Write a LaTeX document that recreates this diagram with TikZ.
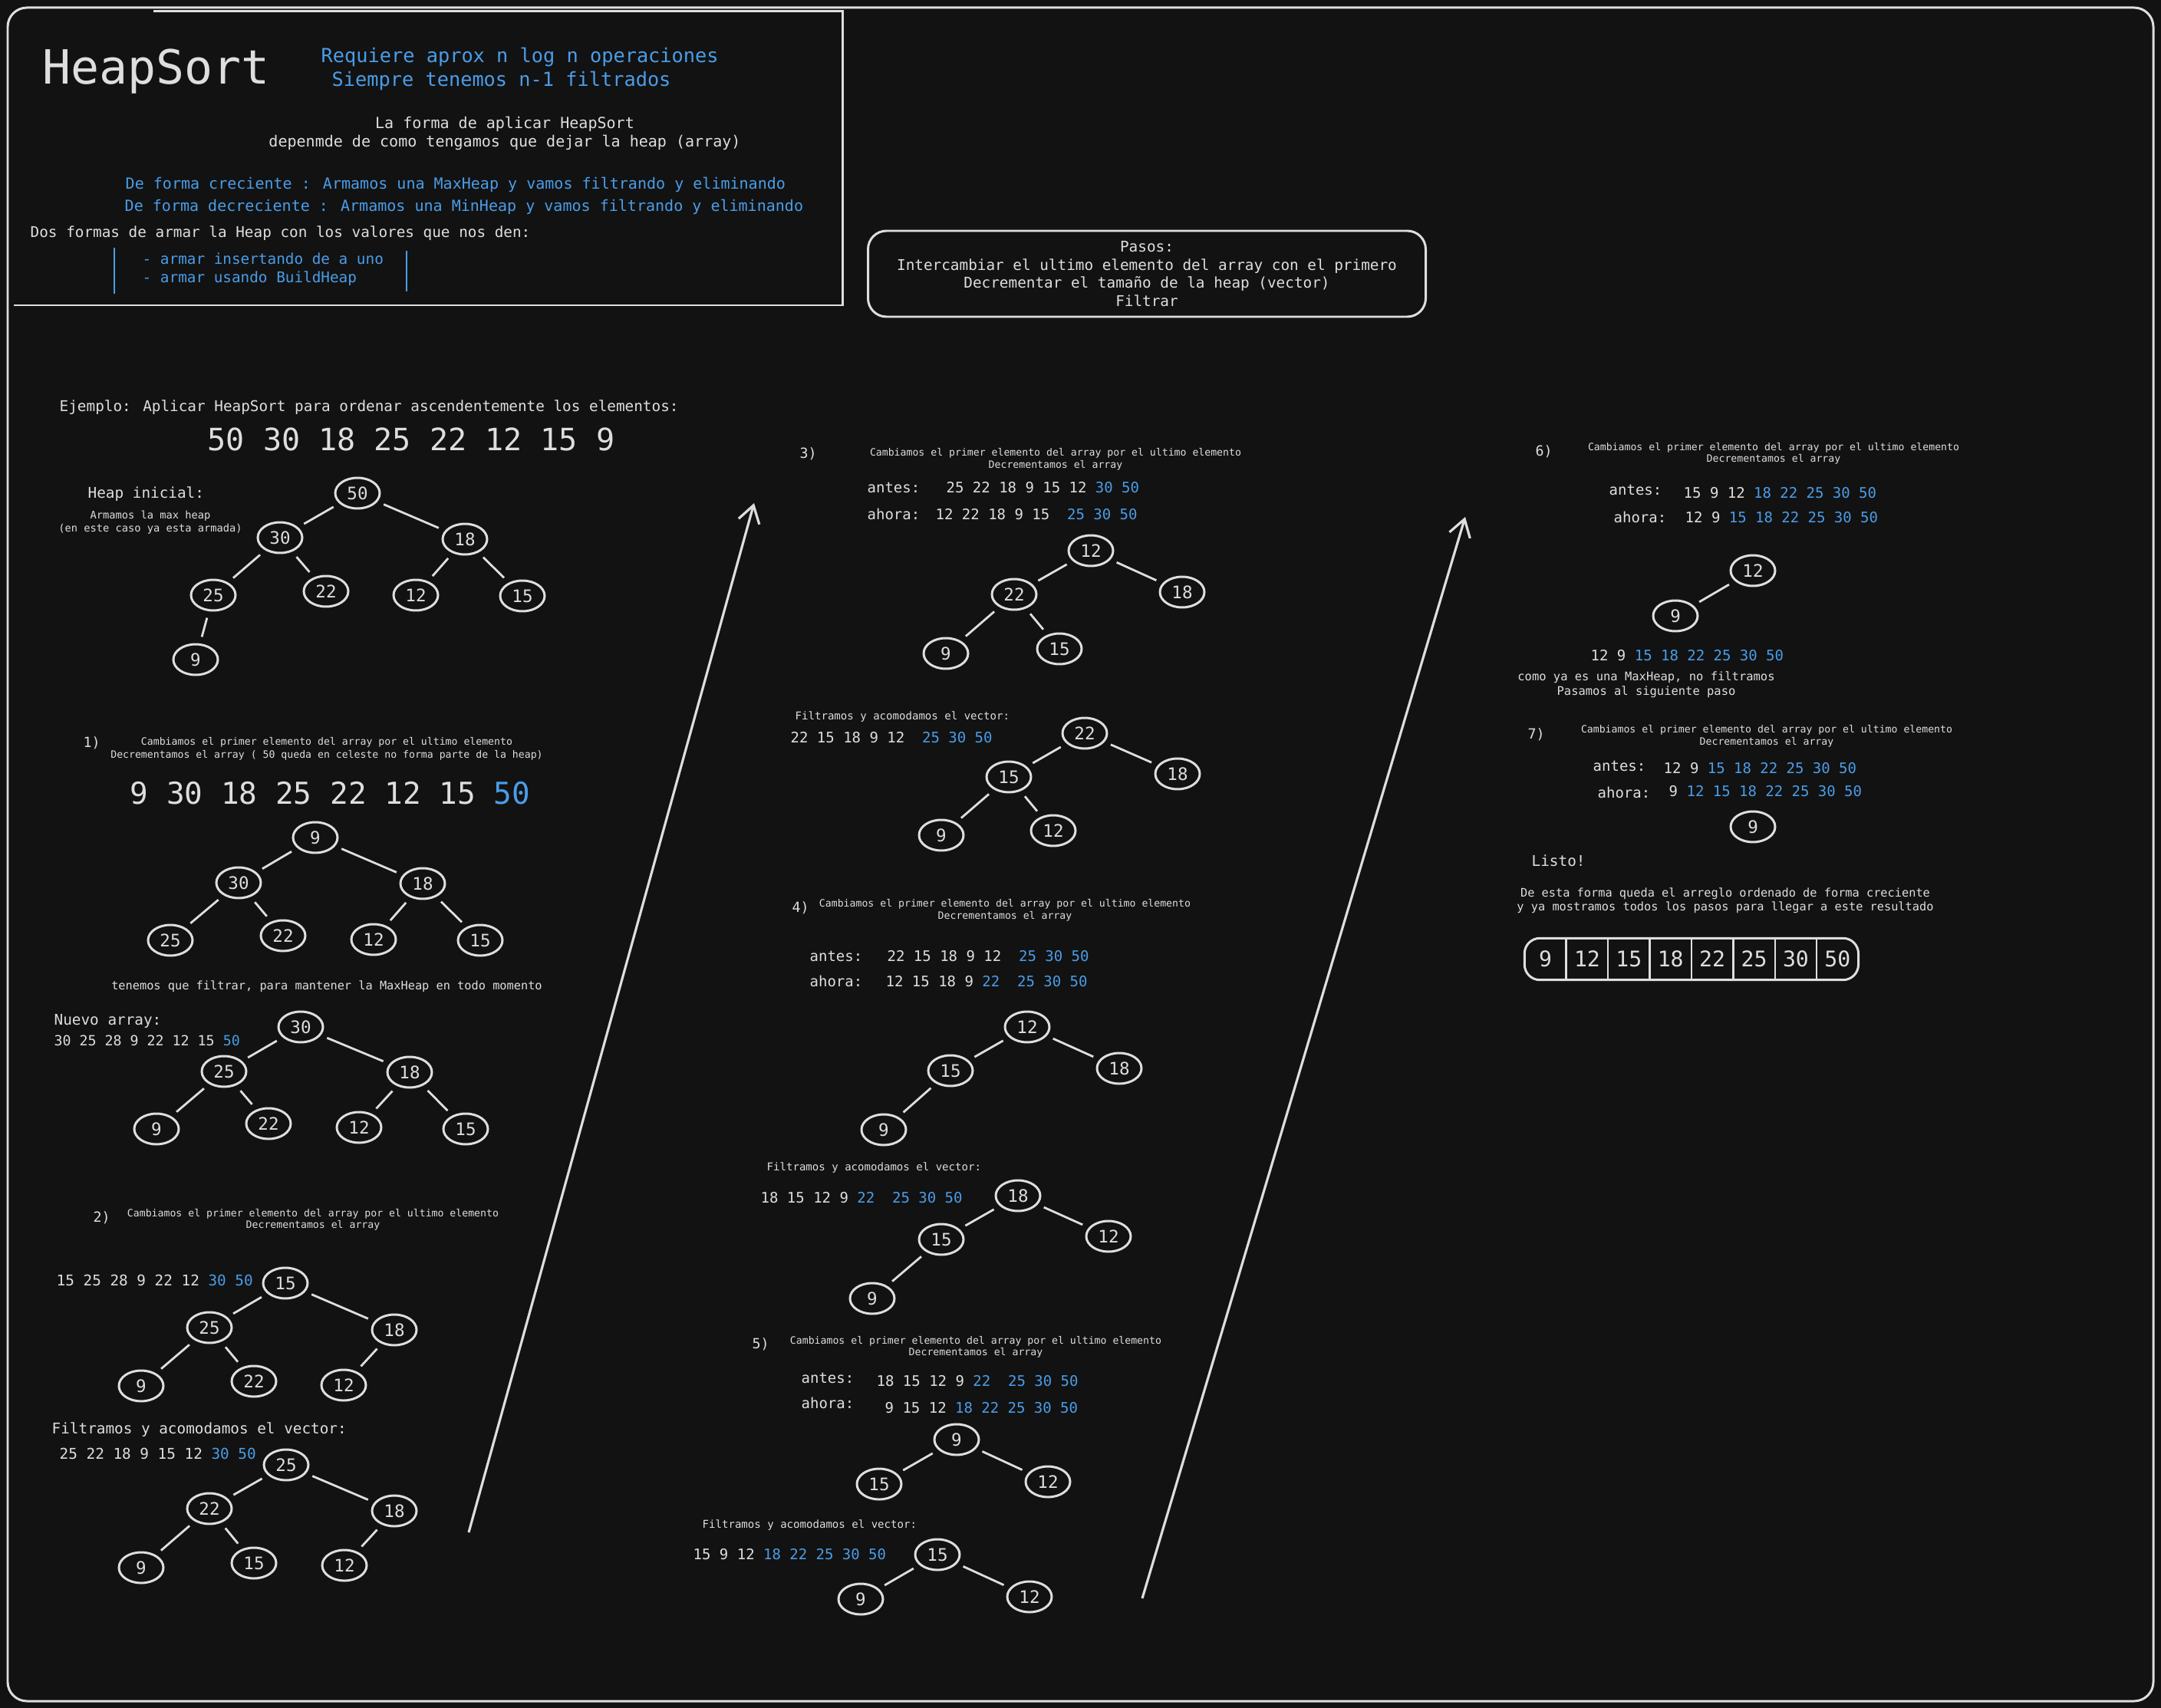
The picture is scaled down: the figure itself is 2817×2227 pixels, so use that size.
\documentclass[tikz,border=0pt]{standalone}
\usepackage{fontspec}
\setmainfont{DejaVu Sans Mono}
\usetikzlibrary{arrows.meta,positioning,shapes.geometric}
\definecolor{HsBack}{HTML}{121212}
\definecolor{HsInk}{HTML}{DEDEDE}
\definecolor{HsBlue}{HTML}{4A9DE8}
\newcommand{\hl}[1]{\textcolor{HsBlue}{#1}}
\newcommand{\fsz}[1]{\fontsize{#1pt}{#1pt}\selectfont}

\begin{document}
\begin{tikzpicture}[x=0.1mm,y=-0.1mm,
  txt/.style={text=HsInk,inner sep=0pt,anchor=base west,font=\fsz{5.5}},
  ctr/.style={txt,anchor=base},
  note/.style={ctr,font=\fsz{3.75}},
  lbl/.style={txt,font=\fsz{5.4}},
  hn/.style={ellipse,draw=HsInk,line width=0.85pt,minimum width=5.8mm,minimum height=4mm,inner sep=0pt,text=HsInk,font=\fsz{6.4}},
  he/.style={draw=HsInk,line width=0.8pt,shorten <=2.5pt,shorten >=2.5pt},
  bigarr/.style={draw=HsInk,line width=0.9pt,-{Straight Barb[length=2.2mm,width=2.8mm]}},
  cell/.style={minimum width=5.3mm,minimum height=5.3mm,inner sep=0pt,text=HsInk,font=\fsz{8}}
]
\fill[HsBack] (0,0) rectangle (2817,2227);
\draw[HsInk,line width=0.85pt,rounded corners=2.5mm] (10,10) rectangle (2807,2218);

% header
\draw[HsInk,line width=0.85pt] (200,15) -- (1098,15) -- (1098,398) -- (18,398);
\node[txt,font=\fsz{17.5}] (title) at (55,110) {HeapSort};
\node[txt,font=\fsz{7.2},text=HsBlue] (cost1) at (418,82) {Requiere aprox n log n operaciones};
\node[txt,font=\fsz{7.2},text=HsBlue] (cost2) at (432,113) {Siempre tenemos n-1 filtrados};
\node[ctr,font=\fsz{5.7}] (forma1) at (658,168) {La forma de aplicar HeapSort};
\node[ctr,font=\fsz{5.7}] (forma2) at (658,192) {depenmde de como tengamos que dejar la heap (array)};
\node[txt,font=\fsz{5.7},text=HsBlue] (crec) at (163,247) {De forma creciente : Armamos una MaxHeap y vamos filtrando y eliminando};
\node[txt,font=\fsz{5.7},text=HsBlue] (decr) at (162,276) {De forma decreciente : Armamos una MinHeap y vamos filtrando y eliminando};
\node[txt] (dos) at (39,310) {Dos formas de armar la Heap con los valores que nos den:};
\node[txt,text=HsBlue] (way1) at (185,345) {- armar insertando de a uno};
\node[txt,text=HsBlue] (way2) at (185,369) {- armar usando BuildHeap};
\draw[HsBlue,line width=0.5pt] (149,323) -- (149,383);
\draw[HsBlue,line width=0.5pt] (530,327) -- (530,380);

\node[draw=HsInk,line width=0.85pt,rounded corners=2.4mm,minimum width=72.7mm,minimum height=11.2mm,align=center,text=HsInk,font=\fontsize{5.5pt}{6.75pt}\selectfont] (pasos) at (1495,357) {Pasos:\\Intercambiar el ultimo elemento del array con el primero\\Decrementar el tamaño de la heap (vector)\\Filtrar};

% ejemplo
\node[txt] (ej) at (77,536) {Ejemplo: Aplicar HeapSort para ordenar ascendentemente los elementos:};
\node[txt,font=\fsz{11.4}] (arr0) at (270,588) {50 30 18 25 22 12 15 9};
\node[txt] (heapini) at (114,650) {Heap inicial:};
\node[note,font=\fsz{3.9}] (armamos1) at (196,676) {Armamos la max heap};
\node[note,font=\fsz{3.9}] (armamos2) at (196,693) {(en este caso ya esta armada)};
\node[hn] (ini50) at (466,643) {50};
\node[hn] (ini30) at (365,701) {30};
\node[hn] (ini18) at (606,703) {18};
\node[hn] (ini25) at (278,776) {25};
\node[hn] (ini22) at (425,771) {22};
\node[hn] (ini12) at (542,776) {12};
\node[hn] (ini15) at (681,777) {15};
\node[hn] (ini9) at (255,860) {9};
\foreach \a/\b in {ini50/ini30,ini50/ini18,ini30/ini25,ini30/ini22,ini18/ini12,ini18/ini15,ini25/ini9}
  \draw[he] (\a) -- (\b);

% paso 1
\node[txt,font=\fsz{5.2}] (p1) at (108,974) {1)};
\node[note] (p1c1) at (426,971) {Cambiamos el primer elemento del array por el ultimo elemento};
\node[note] (p1c2) at (426,988) {Decrementamos el array ( 50 queda en celeste no forma parte de la heap)};
\node[txt,font=\fsz{11.2}] (arr1) at (169,1048) {9 30 18 25 22 12 15 \hl{50}};
\node[hn] (s1a9) at (411,1092) {9};
\node[hn] (s1a30) at (311,1151) {30};
\node[hn] (s1a18) at (551,1152) {18};
\node[hn] (s1a25) at (222,1226) {25};
\node[hn] (s1a22) at (369,1220) {22};
\node[hn] (s1a12) at (487,1225) {12};
\node[hn] (s1a15) at (626,1226) {15};
\foreach \a/\b in {s1a9/s1a30,s1a9/s1a18,s1a30/s1a25,s1a30/s1a22,s1a18/s1a12,s1a18/s1a15}
  \draw[he] (\a) -- (\b);
\node[note,font=\fsz{4.35}] (filt1) at (426,1290) {tenemos que filtrar, para mantener la MaxHeap en todo momento};
\node[txt] (nuevo) at (70,1336) {Nuevo array:};
\node[txt,font=\fsz{5.2}] (arr1b) at (70,1363) {30 25 28 9 22 12 15 \hl{50}};
\node[hn] (s1b30) at (392,1339) {30};
\node[hn] (s1b25) at (292,1397) {25};
\node[hn] (s1b18) at (534,1398) {18};
\node[hn] (s1b9) at (204,1472) {9};
\node[hn] (s1b22) at (350,1465) {22};
\node[hn] (s1b12) at (468,1470) {12};
\node[hn] (s1b15) at (607,1472) {15};
\foreach \a/\b in {s1b30/s1b25,s1b30/s1b18,s1b25/s1b9,s1b25/s1b22,s1b18/s1b12,s1b18/s1b15}
  \draw[he] (\a) -- (\b);

% paso 2
\node[txt,font=\fsz{5.2}] (p2) at (121,1593) {2)};
\node[note] (p2c1) at (408,1586) {Cambiamos el primer elemento del array por el ultimo elemento};
\node[note] (p2c2) at (408,1601) {Decrementamos el array};
\node[txt] (arr2) at (73,1676) {15 25 28 9 22 12 \hl{30 50}};
\node[hn] (s2a15) at (372,1673) {15};
\node[hn] (s2a25) at (273,1731) {25};
\node[hn] (s2a18) at (514,1734) {18};
\node[hn] (s2a9) at (184,1807) {9};
\node[hn] (s2a22) at (331,1801) {22};
\node[hn] (s2a12) at (448,1806) {12};
\foreach \a/\b in {s2a15/s2a25,s2a15/s2a18,s2a25/s2a9,s2a25/s2a22,s2a18/s2a12}
  \draw[he] (\a) -- (\b);
\node[txt] (filt2) at (67,1869) {Filtramos y acomodamos el vector:};
\node[txt] (arr2b) at (77,1902) {25 22 18 9 15 12 \hl{30 50}};
\node[hn] (s2b25) at (373,1910) {25};
\node[hn] (s2b22) at (273,1967) {22};
\node[hn] (s2b18) at (514,1970) {18};
\node[hn] (s2b9) at (184,2044) {9};
\node[hn] (s2b15) at (331,2038) {15};
\node[hn] (s2b12) at (449,2041) {12};
\foreach \a/\b in {s2b25/s2b22,s2b25/s2b18,s2b22/s2b9,s2b22/s2b15,s2b18/s2b12}
  \draw[he] (\a) -- (\b);

\coordinate (go1a) at (611,1998);
\coordinate (go1b) at (983,656);
\draw[bigarr] (go1a) -- (go1b);

% paso 3
\node[txt,font=\fsz{5.2}] (p3) at (1042,598) {3)};
\node[note] (p3c1) at (1376,595) {Cambiamos el primer elemento del array por el ultimo elemento};
\node[note] (p3c2) at (1376,611) {Decrementamos el array};
\node[lbl] (antes3) at (1130,642) {antes:};
\node[lbl] (arr3a) at (1233,642) {25 22 18 9 15 12 \hl{30 50}};
\node[lbl] (ahora3) at (1130,677) {ahora:};
\node[lbl] (arr3b) at (1219,677) {12 22 18 9 15~ \hl{25 30 50}};
\node[hn] (s3a12) at (1422,718) {12};
\node[hn] (s3a22) at (1322,775) {22};
\node[hn] (s3a18) at (1541,772) {18};
\node[hn] (s3a9) at (1233,852) {9};
\node[hn] (s3a15) at (1381,846) {15};
\foreach \a/\b in {s3a12/s3a22,s3a12/s3a18,s3a22/s3a9,s3a22/s3a15}
  \draw[he] (\a) -- (\b);
\node[txt,font=\fsz{4.0}] (filt3) at (1036,938) {Filtramos y acomodamos el vector:};
\node[lbl] (arr3c) at (1030,968) {22 15 18 9 12~ \hl{25 30 50}};
\node[hn] (s3b22) at (1414,956) {22};
\node[hn] (s3b15) at (1315,1013) {15};
\node[hn] (s3b18) at (1535,1009) {18};
\node[hn] (s3b9) at (1227,1089) {9};
\node[hn] (s3b12) at (1373,1083) {12};
\foreach \a/\b in {s3b22/s3b15,s3b22/s3b18,s3b15/s3b9,s3b15/s3b12}
  \draw[he] (\a) -- (\b);

% paso 4
\node[txt,font=\fsz{5.2}] (p4) at (1032,1189) {4)};
\node[note] (p4c1) at (1310,1182) {Cambiamos el primer elemento del array por el ultimo elemento};
\node[note] (p4c2) at (1310,1198) {Decrementamos el array};
\node[lbl] (antes4) at (1055,1253) {antes:};
\node[lbl] (arr4a) at (1156,1253) {22 15 18 9 12~ \hl{25 30 50}};
\node[lbl] (ahora4) at (1055,1286) {ahora:};
\node[lbl] (arr4b) at (1154,1286) {12 15 18 9 \hl{22~ 25 30 50}};
\node[hn] (s4a12) at (1339,1339) {12};
\node[hn] (s4a15) at (1239,1396) {15};
\node[hn] (s4a18) at (1459,1393) {18};
\node[hn] (s4a9) at (1152,1473) {9};
\foreach \a/\b in {s4a12/s4a15,s4a12/s4a18,s4a15/s4a9}
  \draw[he] (\a) -- (\b);
\node[txt,font=\fsz{4.0}] (filt4) at (999,1526) {Filtramos y acomodamos el vector:};
\node[lbl] (arr4c) at (991,1568) {18 15 12 9 \hl{22~ 25 30 50}};
\node[hn] (s4b18) at (1327,1559) {18};
\node[hn] (s4b15) at (1227,1616) {15};
\node[hn] (s4b12) at (1445,1612) {12};
\node[hn] (s4b9) at (1137,1693) {9};
\foreach \a/\b in {s4b18/s4b15,s4b18/s4b12,s4b15/s4b9}
  \draw[he] (\a) -- (\b);

% paso 5
\node[txt,font=\fsz{5.2}] (p5) at (980,1758) {5)};
\node[note] (p5c1) at (1272,1752) {Cambiamos el primer elemento del array por el ultimo elemento};
\node[note] (p5c2) at (1272,1767) {Decrementamos el array};
\node[lbl] (antes5) at (1044,1803) {antes:};
\node[lbl] (arr5a) at (1142,1807) {18 15 12 9 \hl{22~ 25 30 50}};
\node[lbl] (ahora5) at (1044,1836) {ahora:};
\node[lbl] (arr5b) at (1153,1842) {9 15 12 \hl{18 22 25 30 50}};
\node[hn] (s5a9) at (1247,1877) {9};
\node[hn] (s5a15) at (1146,1935) {15};
\node[hn] (s5a12) at (1366,1932) {12};
\foreach \a/\b in {s5a9/s5a15,s5a9/s5a12}
  \draw[he] (\a) -- (\b);
\node[txt,font=\fsz{4.0}] (filt5) at (915,1992) {Filtramos y acomodamos el vector:};
\node[lbl] (arr5c) at (903,2033) {15 9 12 \hl{18 22 25 30 50}};
\node[hn] (s5b15) at (1222,2027) {15};
\node[hn] (s5b9) at (1122,2085) {9};
\node[hn] (s5b12) at (1342,2082) {12};
\foreach \a/\b in {s5b15/s5b9,s5b15/s5b12}
  \draw[he] (\a) -- (\b);

\coordinate (go2a) at (1489,2084);
\coordinate (go2b) at (1910,674);
\draw[bigarr] (go2a) -- (go2b);

% paso 6
\node[txt,font=\fsz{5.2}] (p6) at (2001,595) {6)};
\node[note] (p6c1) at (2312,587) {Cambiamos el primer elemento del array por el ultimo elemento};
\node[note] (p6c2) at (2312,603) {Decrementamos el array};
\node[lbl] (antes6) at (2097,646) {antes:};
\node[lbl] (arr6a) at (2194,649) {15 9 12 \hl{18 22 25 30 50}};
\node[lbl] (ahora6) at (2103,681) {ahora:};
\node[lbl] (arr6b) at (2196,682) {12 9 \hl{15 18 22 25 30 50}};
\node[hn] (s6a12) at (2285,744) {12};
\node[hn] (s6a9) at (2184,803) {9};
\draw[he] (s6a12) -- (s6a9);
\node[lbl] (arr6c) at (2073,861) {12 9 \hl{15 18 22 25 30 50}};
\node[ctr,font=\fsz{4.4}] (ya1) at (2146,887) {como ya es una MaxHeap, no filtramos};
\node[ctr,font=\fsz{4.4}] (ya2) at (2146,906) {Pasamos al siguiente paso};

% paso 7
\node[txt,font=\fsz{5.2}] (p7) at (1991,963) {7)};
\node[note] (p7c1) at (2303,955) {Cambiamos el primer elemento del array por el ultimo elemento};
\node[note] (p7c2) at (2303,971) {Decrementamos el array};
\node[lbl] (antes7) at (2076,1005) {antes:};
\node[lbl] (arr7a) at (2168,1008) {12 9 \hl{15 18 22 25 30 50}};
\node[lbl] (ahora7) at (2082,1040) {ahora:};
\node[lbl] (arr7b) at (2175,1038) {9 \hl{12 15 18 22 25 30 50}};
\node[hn] (s7a9) at (2285,1078) {9};
\node[txt] (listo) at (1996,1129) {Listo!};
\node[ctr,font=\fsz{4.35}] (fin1) at (2249,1169) {De esta forma queda el arreglo ordenado de forma creciente};
\node[ctr,font=\fsz{4.35}] (fin2) at (2249,1187) {y ya mostramos todos los pasos para llegar a este resultado};

% arreglo final
\node[cell] (r1) at (2014.5,1250.5) {9};
\node[cell,right=0pt of r1] (r2) {12};
\node[cell,right=0pt of r2] (r3) {15};
\node[cell,right=0pt of r3] (r4) {18};
\node[cell,right=0pt of r4] (r5) {22};
\node[cell,right=0pt of r5] (r6) {25};
\node[cell,right=0pt of r6] (r7) {30};
\node[cell,right=0pt of r7] (r8) {50};
\draw[HsInk,line width=0.85pt,rounded corners=2mm] (r1.north west) rectangle (r8.south east);
\foreach \i in {1,...,7}
  \draw[HsInk,line width=0.7pt] (r\i.north east) -- (r\i.south east);
\end{tikzpicture}
\end{document}
